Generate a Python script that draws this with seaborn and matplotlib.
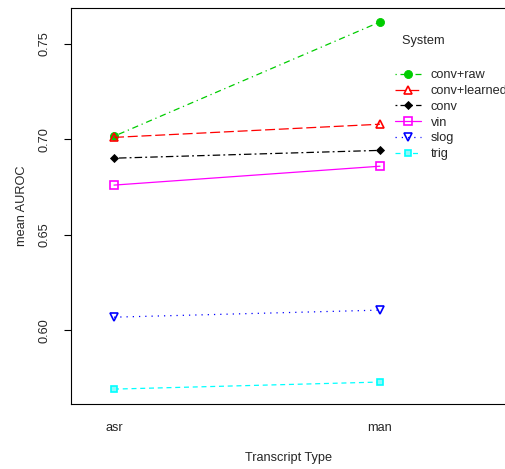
import seaborn as sns
import matplotlib.pyplot as plt
import pandas as pd

FONT_SIZE = 9.2

transcript_types = ["asr", "man"]
systems = ["conv+raw", "conv+learned", "conv", "vin", "slog", "trig"]
auroc_asr = [0.7016, 0.7010, 0.6901, 0.6760, 0.6068, 0.5691]
auroc_man = [0.7615, 0.7079, 0.6942, 0.6859, 0.6105, 0.5728]

system_colors = {
    "conv+raw": "#00cd00",
    "conv+learned": "#ff0000",
    "conv": "#000000",
    "vin": "#ff00ff",
    "slog": "#0000ff",
    "trig": "#00ffff",
}
system_markers = {
    "conv+raw": "o",
    "conv+learned": "^",
    "conv": "D",
    "vin": "s",
    "slog": "v",
    "trig": "s",
}
# dash patterns in units of linewidth
system_dashes = {
    "conv+raw": (1, 3, 5, 3),
    "conv+learned": (8, 3),
    "conv": (1.5, 2.5, 6, 2.5),
    "vin": "",
    "slog": (1, 4),
    "trig": (4, 3),
}
open_markers = {"conv+learned", "vin", "slog"}
marker_sizes = {"conv+raw": 5.8, "conv+learned": 6.2, "conv": 3.6,
                "vin": 5.2, "slog": 6.2, "trig": 5.0}

rows = []
for i, s in enumerate(systems):
    rows.append({"Transcript Type": transcript_types[0], "System": s, "mean AUROC": auroc_asr[i]})
    rows.append({"Transcript Type": transcript_types[1], "System": s, "mean AUROC": auroc_man[i]})
df = pd.DataFrame(rows)

sns.set_style("white")
plt.rcParams["font.family"] = ["Liberation Sans", "DejaVu Sans"]
plt.rcParams["font.size"] = FONT_SIZE

fig = plt.figure(figsize=(5.06, 4.69), dpi=100)
ax = fig.add_axes([71 / 506, 1 - 404 / 469, 1 - 71 / 506, (404 - 8) / 469])

sns.lineplot(
    data=df,
    x="Transcript Type",
    y="mean AUROC",
    hue="System",
    style="System",
    hue_order=systems,
    style_order=systems,
    palette=system_colors,
    markers=system_markers,
    dashes=system_dashes,
    linewidth=0.9,
    legend=False,
    ax=ax,
)

lines = ax.lines[: len(systems)]
for line, s in zip(lines, systems):
    line.set_markeredgecolor(system_colors[s])
    line.set_markersize(marker_sizes[s])
    line.set_markeredgewidth(1.2 if s in open_markers or s == "trig" else 0.6)
    if s in open_markers:
        line.set_markerfacecolor("none")
    if s == "trig":
        line.set_markerfacecolor("#8ff8f8")

ax.set_xlim(-43 / 266, (506 - 114) / 266)
ax.set_ylim(0.5613, 0.7688)
ax.set_yticks([0.60, 0.65, 0.70, 0.75])
ax.set_yticklabels(["0.60", "0.65", "0.70", "0.75"])
ax.tick_params(axis="y", length=5, width=0.8, color="black", pad=9.5,
               labelrotation=90, labelsize=FONT_SIZE, left=True)
for lbl in ax.get_yticklabels():
    lbl.set_va("center")
ax.tick_params(axis="x", length=0, pad=13, labelsize=FONT_SIZE)

for side in ["left", "bottom", "top"]:
    ax.spines[side].set_color("black")
    ax.spines[side].set_linewidth(0.8)
    ax.spines[side].set_visible(True)
ax.spines["right"].set_visible(False)

ax.set_xlabel("Transcript Type", fontsize=FONT_SIZE, labelpad=13)
ax.set_ylabel("mean AUROC", fontsize=FONT_SIZE, labelpad=8)

leg = ax.legend(
    handles=lines,
    labels=systems,
    title="  System\n",
    loc="upper left",
    bbox_to_anchor=(395 / 506, 1 - 35 / 469),
    bbox_transform=fig.transFigure,
    frameon=False,
    fontsize=FONT_SIZE,
    title_fontsize=FONT_SIZE,
    alignment="left",
    handlelength=2.0,
    handletextpad=0.8,
    labelspacing=0.29,
    borderpad=0,
    borderaxespad=0,
)
leg.get_title().set_linespacing(1.75)

fig.savefig("out.png", dpi=100)
